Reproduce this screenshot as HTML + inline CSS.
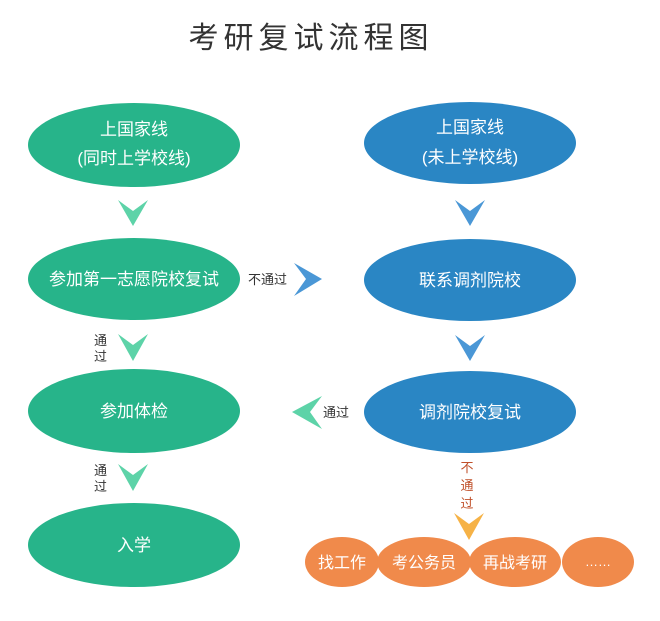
<!DOCTYPE html>
<html><head><meta charset="utf-8"><style>
body{margin:0;background:#fff;}
svg{display:block;}
text{font-family:"Liberation Sans","Noto Sans CJK SC",sans-serif;}
</style></head><body>
<svg width="660" height="621" viewBox="0 0 660 621" xmlns="http://www.w3.org/2000/svg">
<text x="311" y="48" font-size="30" fill="#333" text-anchor="middle" letter-spacing="5">考研复试流程图</text>
<g fill="#27b48a">
<ellipse cx="134" cy="145" rx="106" ry="42"/>
<ellipse cx="134" cy="279" rx="106" ry="41"/>
<ellipse cx="134" cy="411" rx="106" ry="42"/>
<ellipse cx="134" cy="545" rx="106" ry="42"/>
</g>
<g fill="#2a86c4">
<ellipse cx="470" cy="143" rx="106" ry="41"/>
<ellipse cx="470" cy="280" rx="106" ry="41"/>
<ellipse cx="470" cy="412" rx="106" ry="41"/>
</g>
<g fill="#f08a4b">
<ellipse cx="342" cy="562" rx="37" ry="25"/>
<ellipse cx="424" cy="562" rx="47" ry="25"/>
<ellipse cx="515" cy="562" rx="46" ry="25"/>
<ellipse cx="598" cy="562" rx="36" ry="25"/>
</g>
<g fill="#5dd3a8">
<polygon points="118,200 133,211 148,200 133,226"/>
<polygon points="118,334 133,345 148,334 133,361"/>
<polygon points="118,464 133,475 148,464 133,491"/>
<polygon points="322,396 310,412 322,429 292,412"/>
</g>
<g fill="#4a97d6">
<polygon points="455,200 470,211 485,200 470,226"/>
<polygon points="455,335 470,346 485,335 470,361"/>
<polygon points="294,263 306,279 294,296 322,279"/>
</g>
<polygon points="454,513 469,524 484,513 469,540" fill="#f6b246"/>
<g fill="#fff" text-anchor="middle" font-size="17">
<text x="134" y="135">上国家线</text>
<text x="134" y="164">(同时上学校线)</text>
<text x="134" y="285">参加第一志愿院校复试</text>
<text x="134" y="417">参加体检</text>
<text x="134" y="551">入学</text>
<text x="470" y="133">上国家线</text>
<text x="470" y="163">(未上学校线)</text>
<text x="470" y="286">联系调剂院校</text>
<text x="470" y="418">调剂院校复试</text>
<text x="342" y="568" font-size="16">找工作</text>
<text x="424" y="568" font-size="16">考公务员</text>
<text x="515" y="568" font-size="16">再战考研</text>
<text x="598" y="566" font-size="13">……</text>
</g>
<g fill="#333" font-size="13">
<text x="248" y="284">不通过</text>
<text x="94" y="345">通</text><text x="94" y="361">过</text>
<text x="94" y="475">通</text><text x="94" y="491">过</text>
<text x="323" y="417">通过</text>
</g>
<g fill="#c0502a" font-size="13" text-anchor="middle">
<text x="467" y="472">不</text><text x="467" y="490">通</text><text x="467" y="508">过</text>
</g>
</svg>
</body></html>
